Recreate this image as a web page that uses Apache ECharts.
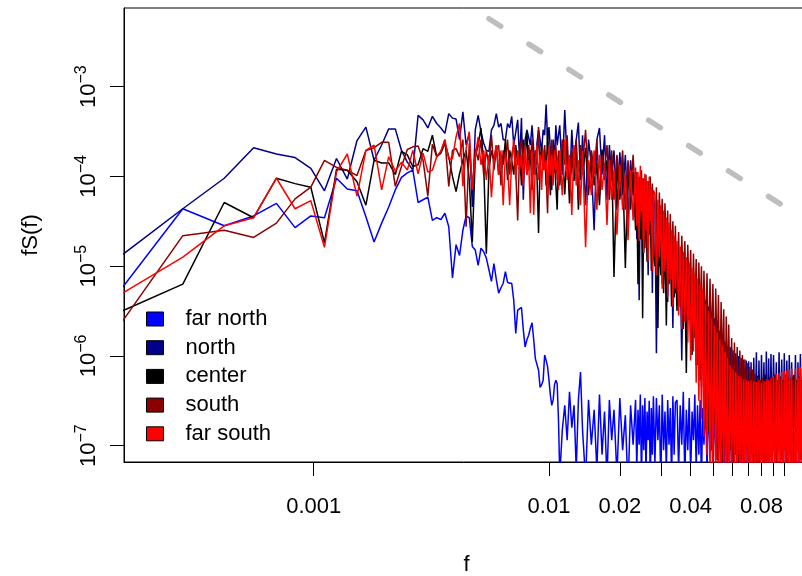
<!DOCTYPE html>
<html><head><meta charset="utf-8">
<script src="https://cdn.jsdelivr.net/npm/echarts@6/dist/echarts.min.js"></script>
<style>html,body{margin:0;padding:0;background:#fff}#c{width:802px;height:576px}</style>
</head><body><div id="c"></div>
<script>
// Spectral estimates: frequency f = k / RECORD_LENGTH, values stored as log10 of fS(f)
const RECORD_LENGTH = 7200;
const harmonicIndex = [1,2,3,4,5,6,7,8,9,10,11,12,13,14,15,16,17,18,19,20,21,22,23,24,25,26,27,28,29,30,
31,32,33,34,35,36,37,38,39,40,41,42,43,44,45,46,47,48,49,50,51,52,53,54,55,56,57,58,59,60,
61,62,63,64,65,66,67,68,69,70,71,72,73,74,75,76,77,78,79,
80,82,84,86,88,90,92,94,96,98,100,103,106,109,112,115,118,121,124,127,130,133,136,140,144,148,152,156,160,164,
168,170,172,174,176,178,180,182,184,186,188,190,192,194,196,198,200,
203,206,209,212,215,218,221,224,227,230,233,236,239,242,245,248,
252,256,260,264,268,272,276,280,284,288,292,296,300,304,308,312,316,320,324,328,
333,338,343,348,353,358,363,368,373,378,383,388,393,398,403,408,413,418,
424,430,436,442,448,454,460,466,472,478,484,490,496,502,508,514,520,
527,534,541,548,555,562,569,576,583,590,597,604,611,618,625,632,639,
648,657,666,675,684,693,702,711,720,729,738,747,756,765,774,783,
793,803,813,823,833,843,853,863,873,883,893,903,913,923];

const farNorthLog10 = [-5.39,-4.36,-4.55,-4.44,-4.30,-4.57,-4.44,-4.46,-4.02,-4.14,
-4.16,-4.45,-4.73,-4.52,-4.34,-4.15,-4.01,-3.96,-3.93,-4.29,
-4.26,-4.23,-4.49,-4.46,-4.48,-4.41,-4.56,-5.13,-4.76,-4.88,
-4.60,-4.44,-4.46,-4.78,-4.82,-4.99,-4.80,-4.84,-4.91,-5.04,
-5.17,-4.97,-5.15,-5.30,-5.24,-5.19,-5.06,-5.18,-5.19,-5.19,
-5.38,-5.75,-5.49,-5.47,-5.46,-5.71,-5.90,-5.82,-5.77,-5.69,
-5.63,-5.82,-6.03,-6.05,-6.16,-6.35,-6.32,-6.27,-5.99,-6.05,
-6.12,-6.27,-6.44,-6.55,-6.49,-6.32,-6.27,-6.31,-6.71,
-7.33,-6.83,-6.55,-6.94,-6.40,-6.80,-6.55,-7.27,-6.49,-6.18,
-6.83,-7.38,-6.49,-6.99,-6.60,-7.27,-6.43,-7.10,-6.62,-7.38,
-6.49,-6.94,-6.60,-7.33,-6.47,-7.05,-6.66,-7.49,-6.55,-6.99,
-6.49,-7.27,-6.60,-6.99,-6.43,-7.38,-6.55,-7.05,-6.47,-7.30,-6.62,-6.94,-6.50,-7.44,-6.58,-7.10,-6.45,
-7.20,-6.47,-6.94,-6.55,-7.44,-6.43,-7.05,-6.62,-7.27,-6.49,-6.99,-6.58,-7.38,-6.45,-7.10,-6.52,
-6.49,-7.27,-6.55,-6.99,-6.40,-7.38,-6.60,-7.05,-6.47,-7.33,-6.62,-6.94,-6.43,-7.27,-6.55,-7.10,-6.49,-7.44,-6.58,-6.99,
-6.49,-7.27,-6.55,-7.05,-6.45,-7.38,-6.60,-6.99,-6.47,-7.33,-6.55,-7.10,-6.43,-7.44,-6.62,-7.05,-6.50,-7.27,
-6.49,-7.38,-6.60,-7.05,-6.43,-7.27,-6.55,-6.99,-6.49,-7.33,-6.58,-7.10,-6.47,-7.44,-6.55,-7.05,-6.50,
-7.27,-6.55,-6.99,-6.49,-7.38,-6.60,-7.05,-6.47,-7.27,-6.55,-6.94,-6.50,-7.33,-6.58,-7.05,-6.45,-7.27,
-6.49,-7.38,-6.55,-7.05,-6.47,-7.27,-6.60,-6.99,-6.49,-7.33,-6.55,-7.05,-6.45,-7.27,-6.58,-6.99,
-7.33,-6.55,-7.05,-6.49,-7.27,-6.55,-6.99,-6.49,-7.38,-6.58,-7.05,-6.47,-7.27,-6.55];

const northLog10 = [-4.96,-4.36,-4.02,-3.68,-3.75,-3.79,-3.91,-4.16,-3.80,-4.03,
-3.60,-3.45,-3.82,-3.65,-3.47,-3.47,-3.71,-3.84,-3.93,-3.32,
-3.37,-3.46,-3.33,-3.41,-3.46,-3.52,-3.30,-3.35,-3.36,-3.59,
-3.28,-3.65,-3.52,-4.34,-3.48,-3.32,-3.50,-3.63,-3.71,-3.72,
-3.48,-3.43,-3.30,-3.45,-3.41,-3.59,-3.59,-3.41,-3.46,-3.33,
-3.65,-3.67,-3.37,-3.82,-3.35,-4.26,-3.59,-3.48,-3.48,-3.65,
-3.43,-3.71,-3.98,-3.63,-3.48,-3.48,-3.71,-3.48,-3.54,-3.20,
-3.59,-3.45,-3.71,-4.15,-3.59,-3.82,-3.43,-3.65,-3.54,
-3.43,-3.98,-3.26,-3.82,-4.15,-3.48,-3.93,-3.59,-3.40,-4.04,
-3.54,-4.32,-3.59,-3.87,-4.60,-3.59,-3.46,-3.98,-3.54,-4.26,
-3.65,-4.04,-3.71,-4.37,-3.73,-4.21,-3.76,-4.49,-3.82,-4.21,
-4.08,-4.70,-4.15,-5.38,-4.10,-4.55,-4.20,-4.85,-4.12,-4.65,-4.25,-5.10,-4.18,-4.60,-4.30,-5.30,-4.22,
-4.35,-5.97,-4.40,-5.00,-4.48,-5.20,-4.55,-5.10,-4.62,-5.40,-4.68,-5.15,-4.75,-5.69,-4.80,-5.30,
-4.85,-5.45,-4.90,-6.05,-4.95,-5.60,-5.00,-5.50,-5.05,-5.85,-5.10,-5.70,-5.15,-6.10,-5.20,-5.90,-5.25,-6.35,-5.30,-6.20,
-5.38,-6.49,-5.45,-6.80,-5.52,-6.60,-5.58,-7.05,-5.65,-6.71,-5.72,-7.21,-5.78,-6.94,-5.84,-7.27,-5.90,-7.10,
-5.90,-7.10,-5.94,-7.27,-5.97,-6.94,-6.00,-7.27,-6.02,-7.05,-6.04,-7.21,-6.05,-6.99,-6.06,-7.27,-6.07,
-7.05,-6.02,-6.83,-5.96,-7.10,-6.05,-6.94,-5.99,-6.77,-6.07,-7.05,-5.95,-6.88,-6.03,-6.99,-5.98,-6.83,
-5.99,-6.77,-6.07,-6.99,-5.96,-6.83,-6.04,-7.05,-5.97,-6.88,-6.05,-6.94,-5.99,-6.83,-6.07,-7.05,
-6.83,-5.99,-6.94,-6.07,-6.77,-5.98,-6.99,-6.05,-6.83,-5.96,-6.94,-6.04,-6.77,-5.99];

const centerLog10 = [-5.55,-5.20,-4.29,-4.46,-4.02,-4.08,-4.12,-4.74,-3.92,-3.93,
-4.06,-4.32,-3.82,-3.85,-3.85,-3.98,-3.72,-3.76,-3.89,-3.87,
-3.69,-3.72,-3.54,-3.78,-3.74,-3.63,-3.78,-4.00,-4.17,-3.97,
-3.82,-3.71,-4.04,-4.73,-3.78,-3.65,-3.46,-3.87,-4.86,-3.93,
-3.71,-3.82,-3.65,-3.98,-3.76,-3.87,-3.59,-4.04,-3.71,-3.82,
-3.98,-3.65,-3.87,-3.71,-4.10,-3.59,-3.82,-3.50,-3.93,-3.71,
-4.15,-3.76,-3.87,-3.98,-4.63,-3.82,-3.65,-3.93,-3.71,-4.10,
-3.46,-3.87,-4.21,-3.71,-3.98,-3.82,-4.10,-4.37,-3.76,
-4.10,-3.65,-4.20,-3.70,-4.30,-3.75,-4.05,-3.62,-4.37,-3.80,
-3.98,-3.68,-4.21,-3.72,-4.10,-3.85,-4.32,-3.70,-4.04,-3.82,
-4.26,-3.76,-5.12,-3.87,-4.26,-3.84,-5.02,-3.90,-4.37,-3.95,
-4.60,-4.18,-5.20,-4.25,-4.70,-4.20,-5.58,-4.28,-4.80,-4.24,-4.95,-4.32,-4.65,-4.30,-5.05,-4.38,-4.85,
-5.00,-4.45,-5.69,-4.52,-5.10,-4.58,-5.30,-4.65,-5.66,-4.72,-5.20,-4.78,-5.45,-4.85,-5.35,-4.92,
-5.50,-4.95,-5.40,-5.00,-5.70,-5.05,-6.19,-5.10,-5.60,-5.15,-5.99,-5.20,-5.80,-5.25,-6.10,-5.30,-6.27,-5.35,-6.00,-5.40,
-6.60,-5.48,-6.83,-5.55,-7.05,-5.62,-6.75,-5.68,-7.16,-5.75,-6.90,-5.82,-7.27,-5.88,-7.00,-5.94,-7.21,-6.00,
-7.05,-5.92,-7.27,-5.98,-7.10,-6.03,-7.33,-6.07,-7.16,-6.10,-7.27,-6.13,-7.05,-6.16,-7.21,-6.18,-7.10,
-6.20,-7.27,-6.24,-7.05,-6.22,-7.21,-6.27,-6.99,-6.25,-7.27,-6.21,-7.05,-6.27,-7.16,-6.24,-7.05,-6.26,
-7.05,-6.21,-7.21,-6.27,-6.99,-6.23,-7.16,-6.27,-7.05,-6.21,-7.27,-6.25,-7.05,-6.27,-7.21,-6.24,
-6.21,-7.21,-6.27,-7.05,-6.23,-7.16,-6.27,-7.05,-6.21,-7.27,-6.25,-7.05,-6.27,-7.21];

const southLog10 = [-5.78,-4.66,-4.60,-4.68,-4.52,-4.25,-4.12,-3.82,-3.90,-3.93,
-3.99,-3.71,-3.68,-3.62,-3.62,-4.11,-3.89,-3.70,-3.67,-3.66,
-3.82,-4.22,-3.64,-3.78,-3.72,-3.59,-4.11,-3.71,-3.69,-3.78,
-3.59,-4.56,-3.63,-4.15,-3.69,-3.82,-3.59,-3.98,-3.71,-3.87,
-3.54,-3.93,-3.71,-3.65,-4.10,-3.71,-3.82,-3.59,-3.98,-3.76,
-3.65,-3.93,-4.49,-3.71,-3.59,-3.87,-3.71,-3.98,-3.65,-3.82,
-3.59,-3.98,-3.71,-3.87,-3.45,-3.93,-3.71,-3.82,-3.65,-3.98,
-4.41,-3.71,-3.87,-3.59,-3.93,-3.76,-3.65,-4.04,-3.71,
-3.98,-3.59,-3.87,-3.54,-4.15,-3.71,-3.93,-3.59,-4.26,-3.65,
-3.87,-3.48,-4.10,-3.71,-3.98,-3.59,-4.21,-3.76,-3.93,-3.65,
-4.15,-3.71,-4.26,-3.76,-4.10,-3.71,-4.37,-3.82,-4.21,-3.76,
-4.30,-3.95,-4.62,-4.00,-4.45,-3.93,-4.70,-4.02,-4.38,-3.98,-4.80,-4.05,-4.55,-4.00,-4.66,-4.08,-4.90,
-4.85,-4.12,-4.95,-4.18,-4.70,-4.25,-5.05,-4.30,-4.90,-4.38,-5.15,-4.42,-5.00,-4.50,-5.25,-4.55,
-5.30,-4.62,-5.45,-4.66,-5.25,-4.72,-5.55,-4.76,-5.40,-4.82,-5.65,-4.86,-5.50,-4.92,-5.80,-4.96,-5.60,-5.00,-5.90,-5.05,
-5.80,-5.08,-6.10,-5.14,-5.90,-5.20,-6.30,-5.25,-6.05,-5.32,-6.50,-5.40,-6.20,-5.48,-6.70,-5.56,-6.40,-5.65,
-6.70,-5.80,-6.95,-5.85,-6.80,-5.90,-7.10,-5.94,-6.90,-5.99,-7.20,-6.04,-7.00,-6.08,-7.27,-6.12,-7.05,
-6.15,-7.10,-6.20,-7.21,-6.24,-6.99,-6.27,-7.16,-6.25,-7.05,-6.29,-7.21,-6.26,-6.99,-6.28,-7.10,-6.25,
-7.05,-6.25,-7.21,-6.28,-6.99,-6.24,-7.16,-6.29,-7.05,-6.22,-7.27,-6.26,-7.10,-6.25,-7.21,-6.27,
-6.25,-7.21,-6.29,-7.05,-6.25,-7.16,-6.27,-7.05,-6.24,-7.21,-6.28,-7.10,-6.25,-7.16];

const farSouthLog10 = [-5.37,-4.90,-4.55,-4.46,-4.02,-4.36,-4.27,-4.79,-3.95,-3.75,
-4.22,-3.71,-3.65,-4.15,-3.78,-3.94,-3.84,-3.93,-3.71,-3.97,
-3.74,-3.95,-3.93,-3.78,-3.72,-3.59,-3.81,-3.80,-3.56,-3.41,
-4.11,-3.69,-3.50,-4.15,-3.78,-3.56,-3.87,-3.71,-4.04,-3.76,
-4.23,-3.82,-3.65,-3.98,-3.71,-4.32,-3.76,-3.87,-4.32,-3.82,
-3.59,-4.04,-3.71,-3.93,-3.76,-4.10,-3.65,-3.98,-3.82,-4.41,
-3.71,-4.43,-3.87,-3.65,-4.04,-3.76,-4.15,-3.71,-3.93,-3.82,
-4.21,-3.65,-3.98,-3.76,-4.10,-3.71,-3.93,-3.82,-4.15,
-3.71,-4.21,-3.59,-4.04,-3.76,-4.43,-3.65,-4.10,-3.82,-4.32,
-3.71,-4.79,-3.82,-4.21,-3.71,-4.37,-3.76,-4.15,-3.87,-4.54,
-3.82,-4.26,-3.93,-4.65,-3.87,-4.37,-3.98,-4.71,-3.93,-4.49,
-3.90,-4.55,-3.95,-4.72,-3.88,-4.40,-4.02,-4.85,-3.97,-4.60,-4.05,-4.95,-4.00,-4.50,-4.12,-5.05,-4.15,
-4.20,-5.10,-4.26,-4.90,-4.32,-5.25,-4.38,-5.05,-4.46,-5.35,-4.52,-5.15,-4.60,-5.45,-4.66,-5.25,
-4.72,-5.55,-4.78,-5.70,-4.84,-5.62,-4.90,-5.85,-4.96,-6.05,-5.02,-5.95,-5.08,-6.30,-5.14,-6.50,-5.20,-6.70,-5.26,-6.90,
-5.42,-7.10,-5.50,-7.35,-5.58,-7.20,-5.66,-7.45,-5.74,-7.30,-5.82,-7.55,-5.88,-7.40,-5.95,-7.50,-6.02,-7.60,
-6.10,-7.44,-6.15,-7.30,-6.18,-7.55,-6.22,-7.40,-6.24,-7.60,-6.26,-7.35,-6.27,-7.50,-6.28,-7.45,-6.27,
-7.50,-6.28,-7.40,-6.29,-7.60,-6.27,-7.45,-6.30,-7.55,-6.28,-7.40,-6.26,-7.58,-6.27,-7.48,-6.25,-7.60,
-6.22,-7.49,-6.20,-7.60,-6.19,-7.44,-6.18,-7.55,-6.17,-7.49,-6.16,-7.60,-6.15,-7.44,-6.14,-7.55,
-7.49,-6.14,-7.60,-6.13,-7.44,-6.12,-7.55,-6.12,-7.49,-6.11,-7.60,-6.12,-7.44,-6.11];

const seriesNames = ['far north', 'north', 'center', 'south', 'far south'];
const seriesColors = ['#0000FF', '#00008B', '#000000', '#8B0000', '#FF0000'];
const seriesLog10 = [farNorthLog10, northLog10, centerLog10, southLog10, farSouthLog10];

// reference slope line (-5/3)
const refLineFreq = [0.00556, 0.2];
const refLineLog10 = [-2.243, -4.836];

const xTickValues = [0.001, 0.01, 0.02, 0.03, 0.04, 0.05, 0.06, 0.07, 0.08, 0.09, 0.1];
const xLabelValues = [0.001, 0.01, 0.02, 0.04, 0.08];
const yTickExponents = [-7, -6, -5, -4, -3];

const FONT = "'Liberation Sans', Arial, Helvetica, sans-serif";

const series = seriesNames.map((name, si) => ({
  name: name,
  type: 'line',
  showSymbol: false,
  symbol: 'none',
  clip: true,
  silent: true,
  lineStyle: { color: seriesColors[si], width: 1.5 },
  itemStyle: { color: seriesColors[si] },
  data: harmonicIndex.map((k, i) => [Math.log10(k / RECORD_LENGTH), seriesLog10[si][i]])
}));
series.push({
  name: 'ref',
  type: 'line',
  showSymbol: false,
  symbol: 'none',
  clip: true,
  silent: true,
  z: 1,
  lineStyle: { color: '#BEBEBE', width: 5.5, type: [13.9, 33.4], cap: 'round' },
  data: refLineFreq.map((f, i) => [Math.log10(f), refLineLog10[i]])
});

const chart = echarts.init(document.getElementById('c'), null, { renderer: 'canvas' });
chart.setOption({
  animation: false,
  backgroundColor: '#ffffff',
  grid: { left: 124, top: 8, width: 685, height: 454, show: true, borderColor: '#000', borderWidth: 1,
          backgroundColor: 'transparent', containLabel: false, outerBoundsMode: 'none' },
  legend: {
    data: seriesNames,
    orient: 'vertical',
    left: 141, top: 303,
    icon: 'rect',
    itemWidth: 17, itemHeight: 14, itemGap: 6.7,
    selectedMode: false,
    itemStyle: { borderColor: '#000', borderWidth: 1 },
    textStyle: { fontSize: 22, color: '#000', fontFamily: FONT, lineHeight: 22, padding: [0, 0, 0, 17] }
  },
  xAxis: {
    type: 'value',
    min: -3.8062, max: -0.8950,
    name: 'f', nameLocation: 'middle', nameGap: 92,
    nameTextStyle: { fontSize: 22, color: '#000', fontFamily: FONT },
    splitLine: { show: false },
    axisLine: { show: true, onZero: false, lineStyle: { color: '#000', width: 1 } },
    axisTick: { show: true, length: 14, customValues: xTickValues.map(v => Math.log10(v)), lineStyle: { color: '#000', width: 1 } },
    axisLabel: {
      customValues: xLabelValues.map(v => Math.log10(v)),
      margin: 34, fontSize: 22, color: '#000', fontFamily: FONT,
      formatter: function (v) {
        for (const l of xLabelValues) { if (Math.abs(Math.log10(l) - v) < 1e-6) return String(l); }
        return '';
      }
    }
  },
  yAxis: {
    type: 'value',
    min: -7.182, max: -2.123,
    name: 'fS(f)', nameLocation: 'middle', nameGap: 82,
    nameTextStyle: { fontSize: 22, color: '#000', fontFamily: FONT },
    splitLine: { show: false },
    axisLine: { show: true, onZero: false, lineStyle: { color: '#000', width: 1 } },
    axisTick: { show: true, length: 14, customValues: yTickExponents, lineStyle: { color: '#000', width: 1 } },
    axisLabel: {
      customValues: yTickExponents,
      rotate: 90, margin: 20, color: '#000', fontFamily: FONT,
      formatter: function (v) { return '{b|10}{s|\u2212' + Math.abs(Math.round(v)) + '}'; },
      rich: {
        b: { fontSize: 22, fontFamily: FONT, color: '#000' },
        s: { fontSize: 16, fontFamily: FONT, color: '#000', padding: [0, 0, 14, 0] }
      }
    }
  },
  series: series
});
</script>
</body></html>
